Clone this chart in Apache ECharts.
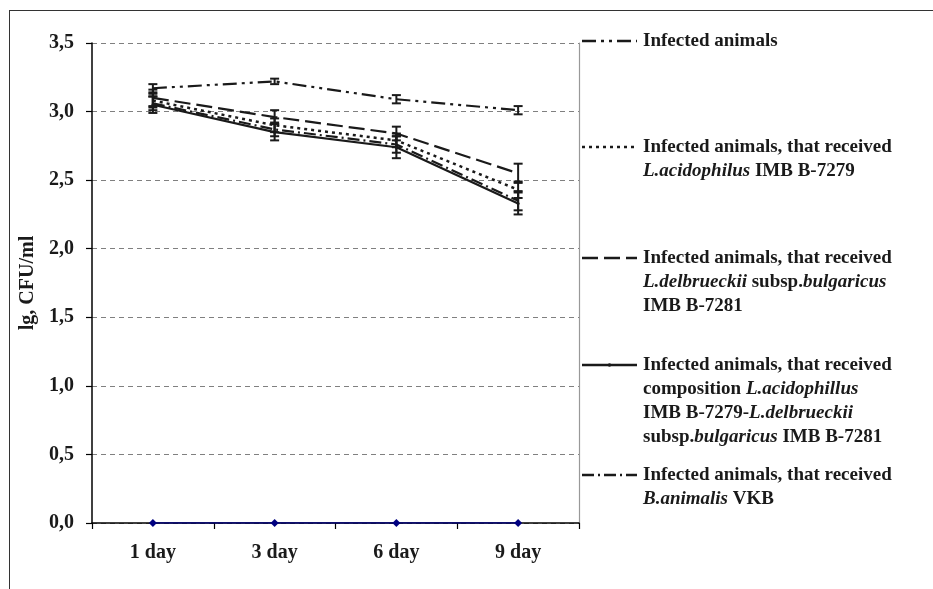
<!DOCTYPE html>
<html>
<head>
<meta charset="utf-8">
<script src="https://cdn.jsdelivr.net/npm/echarts@6/dist/echarts.min.js"></script>
<style>
html,body{margin:0;padding:0;background:#fff;overflow:hidden;}
#frame{position:absolute;left:9px;top:10px;width:1000px;height:1000px;border-top:1.5px solid #333;border-left:1.5px solid #333;}
#chart{position:absolute;left:0;top:0;width:933px;height:589px;}
</style>
</head>
<body>
<div id="frame"></div>
<div id="chart"></div>
<script>
const categories = ['1 day', '3 day', '6 day', '9 day'];
const yTicks = [0, 0.5, 1.0, 1.5, 2.0, 2.5, 3.0, 3.5];

const infected = [3.17, 3.22, 3.09, 3.01];
const infectedErr = [0.03, 0.02, 0.03, 0.03];
const acidophilus = [3.08, 2.90, 2.79, 2.43];
const acidophilusErr = [0.05, 0.05, 0.05, 0.06];
const delbrueckii = [3.10, 2.96, 2.84, 2.55];
const delbrueckiiErr = [0.06, 0.05, 0.05, 0.07];
const composition = [3.05, 2.85, 2.74, 2.33];
const compositionErr = [0.06, 0.06, 0.08, 0.08];
const animalis = [3.06, 2.87, 2.76, 2.35];
const animalisErr = [0.05, 0.05, 0.06, 0.07];
const baseline = [0, 0, 0, 0];

const names = [
  'Infected animals',
  'Infected animals, that received L.acidophilus IMB B-7279',
  'Infected animals, that received L.delbrueckii subsp.bulgaricus IMB B-7281',
  'Infected animals, that received composition',
  'Infected animals, that received B.animalis VKB'
];
const legendTexts = [
  'Infected animals',
  'Infected animals, that received\n{i|L.acidophilus} IMB B-7279',
  'Infected animals, that received\n{i|L.delbrueckii} subsp.{i|bulgaricus}\nIMB B-7281',
  'Infected animals, that received\ncomposition {i|L.acidophillus}\nIMB B-7279-{i|L.delbrueckii}\nsubsp.{i|bulgaricus} IMB B-7281',
  'Infected animals, that received\n{i|B.animalis} VKB'
];
const legendRowY = [41, 147, 258, 365, 475];

const ink = '#1a1a1a';
const FONT = '"Liberation Serif", "Times New Roman", serif';
const dashes = [
  [14, 5, 3, 5, 3, 5],
  [3, 4],
  [16, 6],
  null,
  [12, 4, 2, 4]
];
const values = [infected, acidophilus, delbrueckii, composition, animalis];
const errs = [infectedErr, acidophilusErr, delbrueckiiErr, compositionErr, animalisErr];

const chart = echarts.init(document.getElementById('chart'), null, {renderer: 'canvas'});

const lineSeries = values.map((v, k) => ({
  name: names[k],
  type: 'line',
  data: v,
  symbol: k === 3 ? 'circle' : 'none',
  symbolSize: 3,
  itemStyle: {color: ink},
  lineStyle: {color: ink, width: k === 1 ? 2.5 : 2.2, type: dashes[k] || 'solid'},
  z: 3,
  animation: false
}));

const errData = [];
values.forEach((v, k) => v.forEach((val, i) => errData.push([i, val, errs[k][i]])));

const errSeries = {
  type: 'custom',
  data: errData,
  z: 4,
  animation: false,
  renderItem: function (params, api) {
    const x = api.value(0), y = api.value(1), e = api.value(2);
    const top = api.coord([x, y + e]);
    const bot = api.coord([x, y - e]);
    const w = 4.5;
    const st = {stroke: ink, lineWidth: 2};
    return {
      type: 'group',
      children: [
        {type: 'line', shape: {x1: top[0], y1: top[1], x2: bot[0], y2: bot[1]}, style: st},
        {type: 'line', shape: {x1: top[0] - w, y1: top[1], x2: top[0] + w, y2: top[1]}, style: st},
        {type: 'line', shape: {x1: bot[0] - w, y1: bot[1], x2: bot[0] + w, y2: bot[1]}, style: st}
      ]
    };
  }
};

const baseSeries = {
  type: 'line',
  data: baseline,
  symbol: 'diamond',
  symbolSize: 8,
  itemStyle: {color: '#000080'},
  lineStyle: {color: '#000080', width: 1.5},
  z: 5,
  animation: false
};

const graphic = [];
legendRowY.forEach((y, k) => {
  graphic.push({
    type: 'line',
    shape: {x1: 582, y1: y, x2: 637, y2: y},
    style: {stroke: ink, lineWidth: 2.6, lineDash: dashes[k] || null}
  });
  if (k === 3) {
    graphic.push({type: 'circle', shape: {cx: 609.5, cy: y, r: 1.8}, style: {fill: ink}});
  }
  graphic.push({
    type: 'text',
    x: 643,
    y: y - 12,
    style: {
      text: legendTexts[k],
      fill: ink,
      fontFamily: FONT,
      fontWeight: 'bold',
      fontSize: 19,
      lineHeight: 24,
      verticalAlign: 'top',
      rich: {
        i: {fontFamily: FONT, fontWeight: 'bold', fontStyle: 'italic', fontSize: 19, lineHeight: 24, fill: ink}
      }
    }
  });
});

chart.setOption({
  backgroundColor: 'transparent',
  animation: false,
  grid: {left: 92, right: 354, top: 43, bottom: 66, show: false},
  xAxis: {
    type: 'category',
    data: categories,
    boundaryGap: true,
    axisLine: {lineStyle: {color: '#000', width: 1.5}},
    axisTick: {show: true, length: 6, lineStyle: {color: '#000', width: 1.2}},
    axisLabel: {color: ink, fontFamily: FONT, fontWeight: 'bold', fontSize: 20, margin: 20},
    splitLine: {show: false}
  },
  yAxis: [{
    type: 'value',
    min: yTicks[0],
    max: yTicks[yTicks.length - 1],
    interval: 0.5,
    name: 'lg, CFU/ml',
    nameLocation: 'middle',
    nameRotate: 90,
    nameGap: 49,
    nameTextStyle: {color: ink, fontFamily: FONT, fontWeight: 'bold', fontSize: 20},
    axisLine: {show: true, lineStyle: {color: '#000', width: 1.5}},
    axisTick: {show: true, length: 6, inside: false, lineStyle: {color: '#000', width: 1.2}},
    axisLabel: {
      color: ink, fontFamily: FONT, fontWeight: 'bold', fontSize: 20, margin: 18,
      formatter: v => v.toFixed(1).replace('.', ',')
    },
    splitLine: {show: true, lineStyle: {color: '#808080', width: 1.2, type: [5, 4]}}
  }, {
    type: 'value',
    position: 'right',
    min: yTicks[0],
    max: yTicks[yTicks.length - 1],
    interval: 0.5,
    axisLine: {show: true, lineStyle: {color: '#999', width: 1.2}},
    axisTick: {show: false},
    axisLabel: {show: false},
    splitLine: {show: false}
  }],
  series: [...lineSeries, errSeries, baseSeries],
  graphic: graphic
});
</script>
</body>
</html>
